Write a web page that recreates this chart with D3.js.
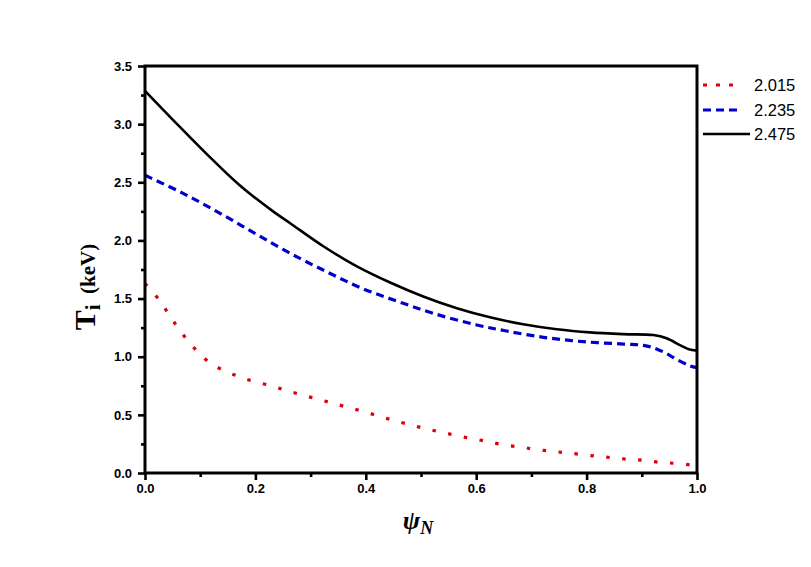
<!DOCTYPE html>
<html>
<head>
<meta charset="utf-8">
<script src="https://cdn.jsdelivr.net/npm/d3@7/dist/d3.min.js"></script>
<style>
  html, body { margin: 0; padding: 0; background: #fff; }
  svg { display: block; }
</style>
</head>
<body>
<svg id="chart" width="811" height="567"></svg>
<script>
// ---- data ----
const seriesNames = ["2.015", "2.235", "2.475"];

const redX = [0.0, 0.026, 0.045, 0.065, 0.088, 0.115, 0.143, 0.171, 0.199, 0.23, 0.257, 0.285, 0.314, 0.341, 0.37, 0.399, 0.427, 0.455, 0.484, 0.513, 0.541, 0.57, 0.599, 0.627, 0.655, 0.684, 0.704, 0.733, 0.76, 0.788, 0.818, 0.845, 0.874, 0.903, 0.932, 0.96, 0.989, 1.0];
const redY = [1.63, 1.487, 1.35, 1.215, 1.081, 0.957, 0.88, 0.828, 0.785, 0.748, 0.708, 0.671, 0.634, 0.599, 0.561, 0.525, 0.484, 0.447, 0.41, 0.376, 0.347, 0.316, 0.29, 0.264, 0.238, 0.221, 0.204, 0.189, 0.175, 0.161, 0.144, 0.132, 0.118, 0.109, 0.092, 0.083, 0.069, 0.062];

const blueX = [0.0, 0.069, 0.136, 0.199, 0.263, 0.329, 0.393, 0.456, 0.522, 0.601, 0.655, 0.722, 0.794, 0.867, 0.903, 0.921, 0.942, 0.963, 0.987, 1.0];
const blueY = [2.56, 2.405, 2.233, 2.061, 1.889, 1.731, 1.588, 1.479, 1.373, 1.273, 1.221, 1.167, 1.129, 1.109, 1.098, 1.077, 1.034, 0.978, 0.922, 0.905];

const blackX = [0.0, 0.051, 0.112, 0.172, 0.232, 0.263, 0.323, 0.383, 0.444, 0.504, 0.565, 0.625, 0.685, 0.746, 0.806, 0.867, 0.921, 0.945, 0.969, 0.985, 1.0];
const blackY = [3.285, 3.035, 2.742, 2.472, 2.25, 2.148, 1.95, 1.779, 1.638, 1.518, 1.417, 1.339, 1.279, 1.236, 1.209, 1.194, 1.186, 1.158, 1.10, 1.065, 1.052];

const xTickLabels = ["0.0", "0.2", "0.4", "0.6", "0.8", "1.0"];
const yTickLabels = ["0.0", "0.5", "1.0", "1.5", "2.0", "2.5", "3.0", "3.5"];

// ---- layout ----
const svg = d3.select("#chart");
const L = 145, R = 697, T = 66, B = 473;

const x = d3.scaleLinear().domain([0, 1]).range([L, R]);
const y = d3.scaleLinear().domain([0, 3.5]).range([B, T]);

const series = [
  { name: seriesNames[0], xs: redX, ys: redY, color: "#dd0010", dash: "3.5,12.5", width: 3.2 },
  { name: seriesNames[1], xs: blueX, ys: blueY, color: "#0000cc", dash: "8,5", width: 3.2 },
  { name: seriesNames[2], xs: blackX, ys: blackY, color: "#000000", dash: null, width: 2.6 }
];

const line = d3.line()
  .x(d => x(d[0]))
  .y(d => y(d[1]))
  .curve(d3.curveCatmullRom.alpha(0.5));

const plot = svg.append("g");
plot.append("clipPath").attr("id", "clip")
  .append("rect").attr("x", L).attr("y", T).attr("width", R - L).attr("height", B - T);

series.forEach(s => {
  const pts = s.xs.map((v, i) => [v, s.ys[i]]);
  plot.append("path")
    .attr("d", line(pts))
    .attr("fill", "none")
    .attr("stroke", s.color)
    .attr("stroke-width", s.width)
    .attr("stroke-dasharray", s.dash)
    .attr("clip-path", "url(#clip)");
});

// ---- axes ----
const tickFont = "bold 13px 'Liberation Sans', Arial, sans-serif";

const xMinor = d3.axisBottom(x).tickValues(d3.range(0.1, 1, 0.2)).tickSize(4).tickFormat("");
const yMinor = d3.axisLeft(y).tickValues(d3.range(0.25, 3.5, 0.5)).tickSize(4).tickFormat("");
const xMajor = d3.axisBottom(x).tickValues(xTickLabels.map(Number)).tickSize(7).tickPadding(4)
  .tickFormat((d, i) => xTickLabels[i]);
const yMajor = d3.axisLeft(y).tickValues(yTickLabels.map(Number)).tickSize(7).tickPadding(6)
  .tickFormat((d, i) => yTickLabels[i]);

function styleAxis(g) {
  g.select(".domain").remove();
  g.selectAll(".tick line").attr("stroke", "#000").attr("stroke-width", 2.6);
  g.selectAll(".tick text").attr("fill", "#000").style("font", tickFont);
}

svg.append("g").attr("transform", `translate(0,${B})`).call(xMinor).call(styleAxis);
svg.append("g").attr("transform", `translate(${L},0)`).call(yMinor).call(styleAxis);
svg.append("g").attr("transform", `translate(0,${B})`).call(xMajor).call(styleAxis);
svg.append("g").attr("transform", `translate(${L},0)`).call(yMajor).call(styleAxis);

// frame
svg.append("rect")
  .attr("x", L).attr("y", T).attr("width", R - L).attr("height", B - T)
  .attr("fill", "none").attr("stroke", "#000").attr("stroke-width", 3);

// ---- axis titles ----
const yt = svg.append("text")
  .attr("transform", `translate(95,287) rotate(-90)`)
  .attr("text-anchor", "middle")
  .style("font-family", "'Liberation Serif', 'Times New Roman', serif")
  .style("font-weight", "bold")
  .attr("fill", "#000");
yt.append("tspan").style("font-size", "30px").text("T");
yt.append("tspan").style("font-size", "21px").attr("dy", 5).text("i");
yt.append("tspan").style("font-size", "21px").attr("dy", -5).text("\u00a0\u00a0(keV)");

const xt = svg.append("text")
  .attr("x", 418).attr("y", 529)
  .attr("text-anchor", "middle")
  .style("font-family", "'Liberation Serif', 'Times New Roman', serif")
  .style("font-weight", "bold")
  .style("font-style", "italic")
  .attr("fill", "#000");
xt.append("tspan").style("font-size", "26px").text("\u03c8");
xt.append("tspan").style("font-size", "18px").attr("dy", 5).text("N");

// ---- legend ----
const legY = [85, 110, 134];
series.forEach((s, i) => {
  const g = svg.append("g");
  g.append("line")
    .attr("x1", 703).attr("x2", s.dash ? 742 : 750)
    .attr("y1", legY[i]).attr("y2", legY[i])
    .attr("stroke", s.color).attr("stroke-width", s.width)
    .attr("stroke-dasharray", s.dash ? (i === 0 ? "4,9" : "8,5") : null);
  g.append("text")
    .attr("x", 754).attr("y", legY[i] + 6)
    .style("font", "16.5px 'Liberation Sans', Arial, sans-serif")
    .attr("fill", "#000")
    .text(s.name);
});
</script>
</body>
</html>
